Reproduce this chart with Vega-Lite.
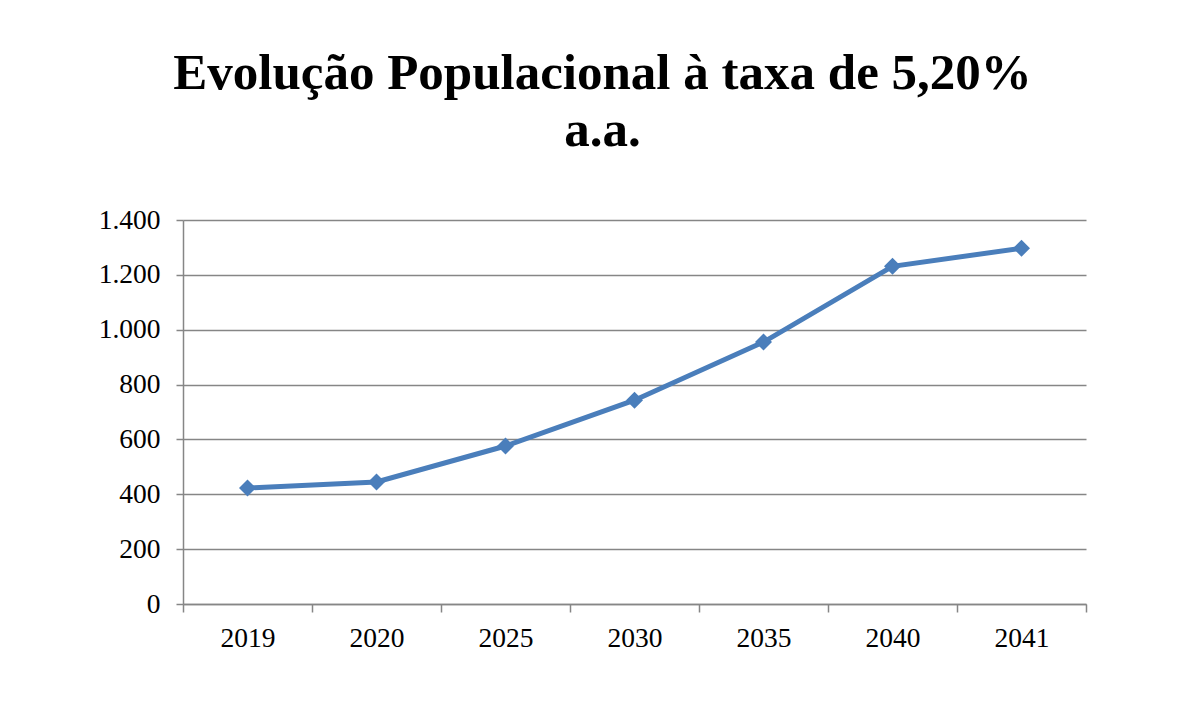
{
  "$schema": "https://vega.github.io/schema/vega-lite/v6.json",
  "autosize": "none",
  "width": 903,
  "height": 384,
  "padding": {"left": 183, "top": 220, "right": 112, "bottom": 109},
  "background": "white",
  "title": {
    "text": ["Evolução Populacional à taxa de 5,20%", "a.a."],
    "anchor": "middle",
    "dx": -32,
    "font": "Liberation Serif",
    "fontSize": 51,
    "fontWeight": "bold",
    "lineHeight": 57,
    "color": "#000000",
    "offset": 49
  },
  "data": {
    "values": [
      {"ano": "2019", "populacao": 423},
      {"ano": "2020", "populacao": 445},
      {"ano": "2025", "populacao": 576},
      {"ano": "2030", "populacao": 743},
      {"ano": "2035", "populacao": 955},
      {"ano": "2040", "populacao": 1231},
      {"ano": "2041", "populacao": 1297}
    ]
  },
  "encoding": {
    "x": {
      "field": "ano",
      "type": "nominal",
      "sort": null,
      "scale": {"type": "band", "paddingInner": 0, "paddingOuter": 0},
      "axis": {
        "title": null,
        "labelAngle": 0,
        "tickBand": "extent",
        "grid": false,
        "domainColor": "#868686",
        "domainWidth": 1.5,
        "tickColor": "#868686",
        "tickWidth": 1.5,
        "tickSize": 8,
        "labelFont": "Liberation Serif",
        "labelFontSize": 27.5,
        "labelColor": "#000000",
        "labelPadding": 12,
        "labelBaseline": "top"
      }
    },
    "y": {
      "field": "populacao",
      "type": "quantitative",
      "scale": {"domain": [0, 1400], "nice": false},
      "axis": {
        "title": null,
        "values": [0, 200, 400, 600, 800, 1000, 1200, 1400],
        "labelExpr": "replace(format(datum.value, ','), ',', '.')",
        "grid": true,
        "gridColor": "#868686",
        "gridWidth": 1.5,
        "domainColor": "#868686",
        "domainWidth": 1.5,
        "tickColor": "#868686",
        "tickWidth": 1.5,
        "tickSize": 7,
        "labelFont": "Liberation Serif",
        "labelFontSize": 27.5,
        "labelColor": "#000000",
        "labelPadding": 16
      }
    }
  },
  "layer": [
    {
      "mark": {"type": "line", "color": "#4A7EBB", "strokeWidth": 5}
    },
    {
      "mark": {"type": "point", "shape": "diamond", "filled": true, "size": 290, "color": "#4A7EBB", "opacity": 1}
    }
  ],
  "config": {
    "view": {"stroke": null}
  }
}
